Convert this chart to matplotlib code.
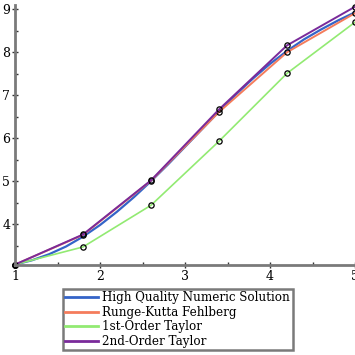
import numpy as np
import matplotlib
matplotlib.use("Agg")
import matplotlib.pyplot as plt
from matplotlib.ticker import MultipleLocator

plt.rcParams.update({"font.family": "DejaVu Serif", "font.size": 8})

BLUE = "#3464c8"; ORANGE = "#f47c5c"; GREEN = "#92ea72"; PURPLE = "#7a2a9a"; AXIS = "#7a7a7a"

# step points (h = 0.8)
x_steps = [1.0, 1.8, 2.6, 3.4, 4.2, 5.0]
rkf = [3.06, 3.75, 5.01, 6.61, 8.00, 8.91]
taylor1 = [3.06, 3.47, 4.44, 5.93, 7.51, 8.70]
taylor2 = [3.06, 3.76, 5.02, 6.67, 8.16, 9.06]

# high quality numeric solution
x_fine = [1.0, 1.2, 1.4, 1.6, 1.8, 2.0, 2.2, 2.4, 2.6, 2.8, 3.0, 3.2, 3.4,
          3.6, 3.8, 4.0, 4.2, 4.4, 4.6, 4.8, 5.0]
y_fine = [3.06, 3.16, 3.30, 3.48, 3.71, 3.98, 4.29, 4.63, 5.00, 5.39, 5.80, 6.21, 6.62,
          7.02, 7.39, 7.73, 8.03, 8.30, 8.53, 8.74, 8.93]

fig = plt.figure(figsize=(3.55, 3.55), dpi=100)
ax = fig.add_axes([15/355, 90/355, 340/355, 260/355])

ax.plot(x_fine, y_fine, color=BLUE, lw=1.6, label="High Quality Numeric Solution")
mk = dict(marker="o", ms=3.8, mfc="none", mec="black", mew=0.9)
ax.plot(x_steps, rkf, color=ORANGE, lw=1.4, label="Runge-Kutta Fehlberg", **mk)
ax.plot(x_steps, taylor1, color=GREEN, lw=1.2, label="1st-Order Taylor", **mk)
ax.plot(x_steps, taylor2, color=PURPLE, lw=1.4, label="2nd-Order Taylor", **mk)

ax.set_xlim(1, 5)
ax.set_ylim(3.05, 9.1)
for s in ["top", "right"]:
    ax.spines[s].set_visible(False)
for s in ["left", "bottom"]:
    ax.spines[s].set_color(AXIS)
    ax.spines[s].set_linewidth(2)
ax.xaxis.set_major_locator(MultipleLocator(1))
ax.xaxis.set_minor_locator(MultipleLocator(0.5))
ax.yaxis.set_major_locator(MultipleLocator(1))
ax.yaxis.set_minor_locator(MultipleLocator(0.5))
ax.tick_params(which="major", direction="inout", length=5, width=1, color="#333333", pad=1, labelsize=9)
ax.tick_params(which="minor", direction="in", length=2, width=1, color="#333333")
for c in ax.lines:
    c.set_clip_on(False)

leg = fig.legend(loc="upper left", bbox_to_anchor=(63/355, 1 - 289/355), fancybox=False,
                 edgecolor=AXIS, framealpha=1, handlelength=2.75, handletextpad=0.35,
                 borderpad=0.2, labelspacing=0.12, borderaxespad=0, fontsize=8.6)
leg.get_frame().set_linewidth(1.8)
for h in leg.legend_handles:
    h.set_marker("")
    h.set_linewidth(2)

fig.savefig("out.png", dpi=100)
